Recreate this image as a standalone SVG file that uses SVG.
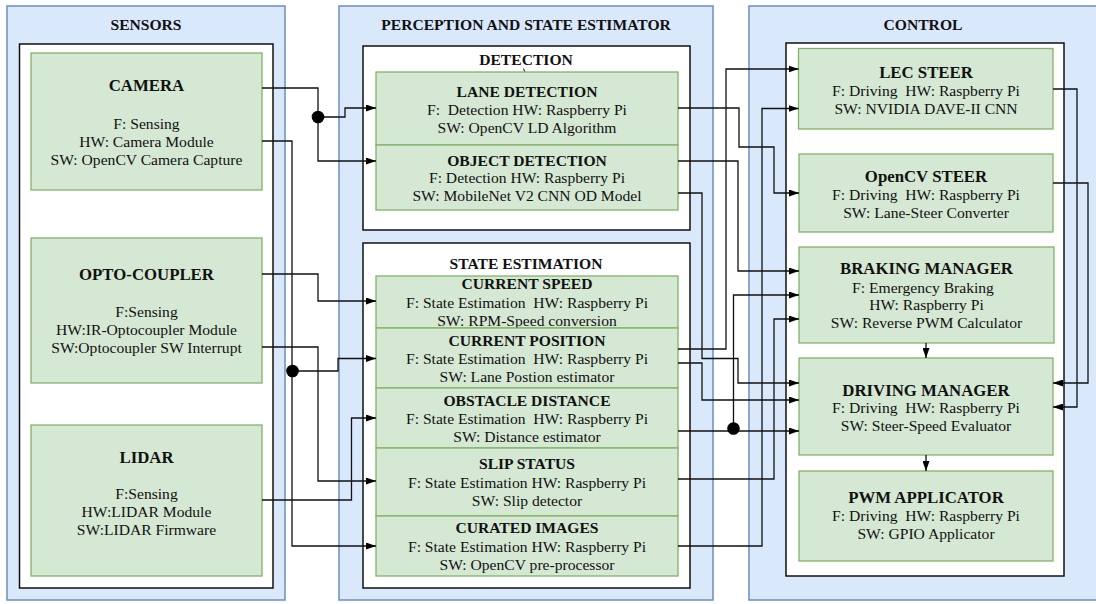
<svg xmlns="http://www.w3.org/2000/svg" width="1096" height="604" viewBox="0 0 1096 604">
<style>
.panel{fill:#dae8fc;stroke:#6c8ebf;stroke-width:1.5}
.box{fill:#ffffff;stroke:#111111;stroke-width:1.5}
.node{fill:#d5e8d4;stroke:#82b366;stroke-width:1.3}
.t{font-family:"Liberation Serif","Times New Roman",serif;fill:#111111;text-anchor:middle;white-space:pre}
.h{font-weight:bold;font-size:15.6px}
.h2{font-weight:bold;font-size:16.8px}
.b{font-size:15.6px}
.c{fill:none;stroke:#111111;stroke-width:1.3}
.a{marker-end:url(#arr)}
.dot{fill:#000000}
</style>
<defs>
<marker id="arr" viewBox="0 0 10 7" refX="10" refY="3.5" markerWidth="10" markerHeight="7" markerUnits="userSpaceOnUse" orient="auto">
<path d="M0,0 L10,3.5 L0,7 Z" fill="#000000"/>
</marker>
</defs>
<rect width="1096" height="604" fill="#ffffff"/>

<g id="panel-sensors">
<rect class="panel" x="7" y="6" width="278" height="594"/>
<text class="t h" x="146" y="29.5">SENSORS</text>
<rect class="box" x="19.5" y="44" width="253.5" height="544"/>
</g>
<g id="panel-perception">
<rect class="panel" x="339" y="6" width="374" height="594"/>
<text class="t h" x="526" y="29.5">PERCEPTION AND STATE ESTIMATOR</text>
</g>
<g id="panel-control">
<rect class="panel" x="749" y="6" width="350" height="594"/>
<text class="t h" x="923" y="29.5">CONTROL</text>
<rect class="box" x="786" y="43" width="278" height="533"/>
</g>
<g id="group-detection">
<rect class="box" x="363" y="46" width="327" height="184"/>
<text class="t h" x="526" y="65">DETECTION</text>
<line x1="523.5" y1="68.5" x2="527" y2="77.5" stroke="#111111" stroke-width="1"/>
</g>
<g id="group-state-estimation">
<rect class="box" x="363" y="243" width="327" height="345"/>
<text class="t h" x="526" y="268.5">STATE ESTIMATION</text>
</g>

<g id="node-camera">
<rect class="node" x="31" y="53" width="231" height="137"/>
<text class="t h2" x="146.5" y="91">CAMERA</text>
<text class="t b" x="146.5" y="128.5">F: Sensing</text>
<text class="t b" x="146.5" y="146.5">HW: Camera Module</text>
<text class="t b" x="146.5" y="164.5">SW: OpenCV Camera Capture</text>
</g>
<g id="node-opto-coupler">
<rect class="node" x="31" y="238" width="231" height="145"/>
<text class="t h2" x="146.5" y="280">OPTO-COUPLER</text>
<text class="t b" x="146.5" y="316.5">F:Sensing</text>
<text class="t b" x="146.5" y="334.5">HW:IR-Optocoupler Module</text>
<text class="t b" x="146.5" y="352.5">SW:Optocoupler SW Interrupt</text>
</g>
<g id="node-lidar">
<rect class="node" x="31" y="425" width="231" height="151"/>
<text class="t h2" x="146.5" y="462.5">LIDAR</text>
<text class="t b" x="146.5" y="499">F:Sensing</text>
<text class="t b" x="146.5" y="517">HW:LIDAR Module</text>
<text class="t b" x="146.5" y="535">SW:LIDAR Firmware</text>
</g>

<g id="node-lane-detection">
<rect class="node" x="376" y="72" width="302" height="73"/>
<text class="t h" x="527" y="96.7">LANE DETECTION</text>
<text class="t b" x="527" y="115" xml:space="preserve">F:  Detection HW: Raspberry Pi</text>
<text class="t b" x="527" y="133">SW: OpenCV LD Algorithm</text>
</g>
<g id="node-object-detection">
<rect class="node" x="376" y="145" width="302" height="65"/>
<text class="t h" x="527" y="165.7">OBJECT DETECTION</text>
<text class="t b" x="527" y="183.3">F: Detection HW: Raspberry Pi</text>
<text class="t b" x="527" y="201">SW: MobileNet V2 CNN OD Model</text>
</g>
<g id="node-current-speed">
<rect class="node" x="376" y="276" width="302" height="52"/>
<text class="t h" x="527" y="289.3">CURRENT SPEED</text>
<text class="t b" x="527" y="308.3" xml:space="preserve">F: State Estimation  HW: Raspberry Pi</text>
<text class="t b" x="527" y="326">SW: RPM-Speed conversion</text>
</g>
<g id="node-current-position">
<rect class="node" x="376" y="328" width="302" height="60"/>
<text class="t h" x="527" y="346">CURRENT POSITION</text>
<text class="t b" x="527" y="364" xml:space="preserve">F: State Estimation  HW: Raspberry Pi</text>
<text class="t b" x="527" y="382.3">SW: Lane Postion estimator</text>
</g>
<g id="node-obstacle-distance">
<rect class="node" x="376" y="388" width="302" height="60"/>
<text class="t h" x="527" y="405.7">OBSTACLE DISTANCE</text>
<text class="t b" x="527" y="424" xml:space="preserve">F: State Estimation  HW: Raspberry Pi</text>
<text class="t b" x="527" y="442.3">SW: Distance estimator</text>
</g>
<g id="node-slip-status">
<rect class="node" x="376" y="448" width="302" height="68"/>
<text class="t h" x="527" y="469.3">SLIP STATUS</text>
<text class="t b" x="527" y="488.3">F: State Estimation HW: Raspberry Pi</text>
<text class="t b" x="527" y="506">SW: Slip detector</text>
</g>
<g id="node-curated-images">
<rect class="node" x="376" y="516" width="302" height="60"/>
<text class="t h" x="527" y="533.3">CURATED IMAGES</text>
<text class="t b" x="527" y="551.7">F: State Estimation HW: Raspberry Pi</text>
<text class="t b" x="527" y="570">SW: OpenCV pre-processor</text>
</g>

<g id="node-lec-steer">
<rect class="node" x="798.5" y="48.5" width="254.5" height="80.5"/>
<text class="t h2" x="926" y="78">LEC STEER</text>
<text class="t b" x="926" y="96" xml:space="preserve">F: Driving  HW: Raspberry Pi</text>
<text class="t b" x="926" y="114">SW: NVIDIA DAVE-II CNN</text>
</g>
<g id="node-opencv-steer">
<rect class="node" x="799" y="154" width="254" height="78"/>
<text class="t h2" x="926" y="181.7">OpenCV STEER</text>
<text class="t b" x="926" y="200" xml:space="preserve">F: Driving  HW: Raspberry Pi</text>
<text class="t b" x="926" y="218.3">SW: Lane-Steer Converter</text>
</g>
<g id="node-braking-manager">
<rect class="node" x="799" y="247" width="255" height="96"/>
<text class="t h2" x="926.5" y="274.3">BRAKING MANAGER</text>
<text class="t b" x="923" y="292.7">F: Emergency Braking</text>
<text class="t b" x="926.5" y="310">HW: Raspberry Pi</text>
<text class="t b" x="926.5" y="328.3">SW: Reverse PWM Calculator</text>
</g>
<g id="node-driving-manager">
<rect class="node" x="799" y="358" width="254" height="97"/>
<text class="t h2" x="926" y="395.7">DRIVING MANAGER</text>
<text class="t b" x="926" y="412.7" xml:space="preserve">F: Driving  HW: Raspberry Pi</text>
<text class="t b" x="926" y="431">SW: Steer-Speed Evaluator</text>
</g>
<g id="node-pwm-applicator">
<rect class="node" x="799" y="471" width="254" height="90"/>
<text class="t h2" x="926" y="503.3">PWM APPLICATOR</text>
<text class="t b" x="926" y="521" xml:space="preserve">F: Driving  HW: Raspberry Pi</text>
<text class="t b" x="926" y="539.3">SW: GPIO Applicator</text>
</g>

<g id="connectors">
<path class="c" d="M262,88 H318 V117"/>
<path class="c a" d="M318,117 H345 V108 H376"/>
<path class="c a" d="M318,117 V161 H376"/>
<circle class="dot" cx="318" cy="117" r="6.3"/>
<path class="c a" d="M262,141 H292 V546 H376"/>
<path class="c a" d="M292,371 H338 V358.5 H376"/>
<circle class="dot" cx="292.5" cy="371" r="6.3"/>
<path class="c a" d="M262,274 H318 V301 H376"/>
<path class="c a" d="M262,347 H318 V481 H376"/>
<path class="c a" d="M262,500 H351.5 V418 H376"/>

<path class="c a" d="M678,108 H739 V147 H774 V193 H799"/>
<path class="c a" d="M678,349 H726 V69 H798.5"/>
<path class="c a" d="M678,546 H762 V108.5 H798.5"/>
<path class="c a" d="M678,161 H738 V271 H799"/>
<path class="c a" d="M678,193 H702 V358.5 H738 V383 H799"/>
<path class="c a" d="M678,363 H702 V400 H799"/>
<path class="c a" d="M678,431 H799"/>
<path class="c a" d="M733.5,428 V295 H799"/>
<circle class="dot" cx="733.5" cy="428.5" r="6.3"/>
<path class="c a" d="M678,479 H774 V319 H799"/>

<path class="c a" d="M926,343 V358"/>
<path class="c a" d="M926,455 V471"/>
<path class="c a" d="M1053,89 H1077 V407 H1053"/>
<path class="c a" d="M1053,183 H1088 V383 H1053"/>
</g>
</svg>
